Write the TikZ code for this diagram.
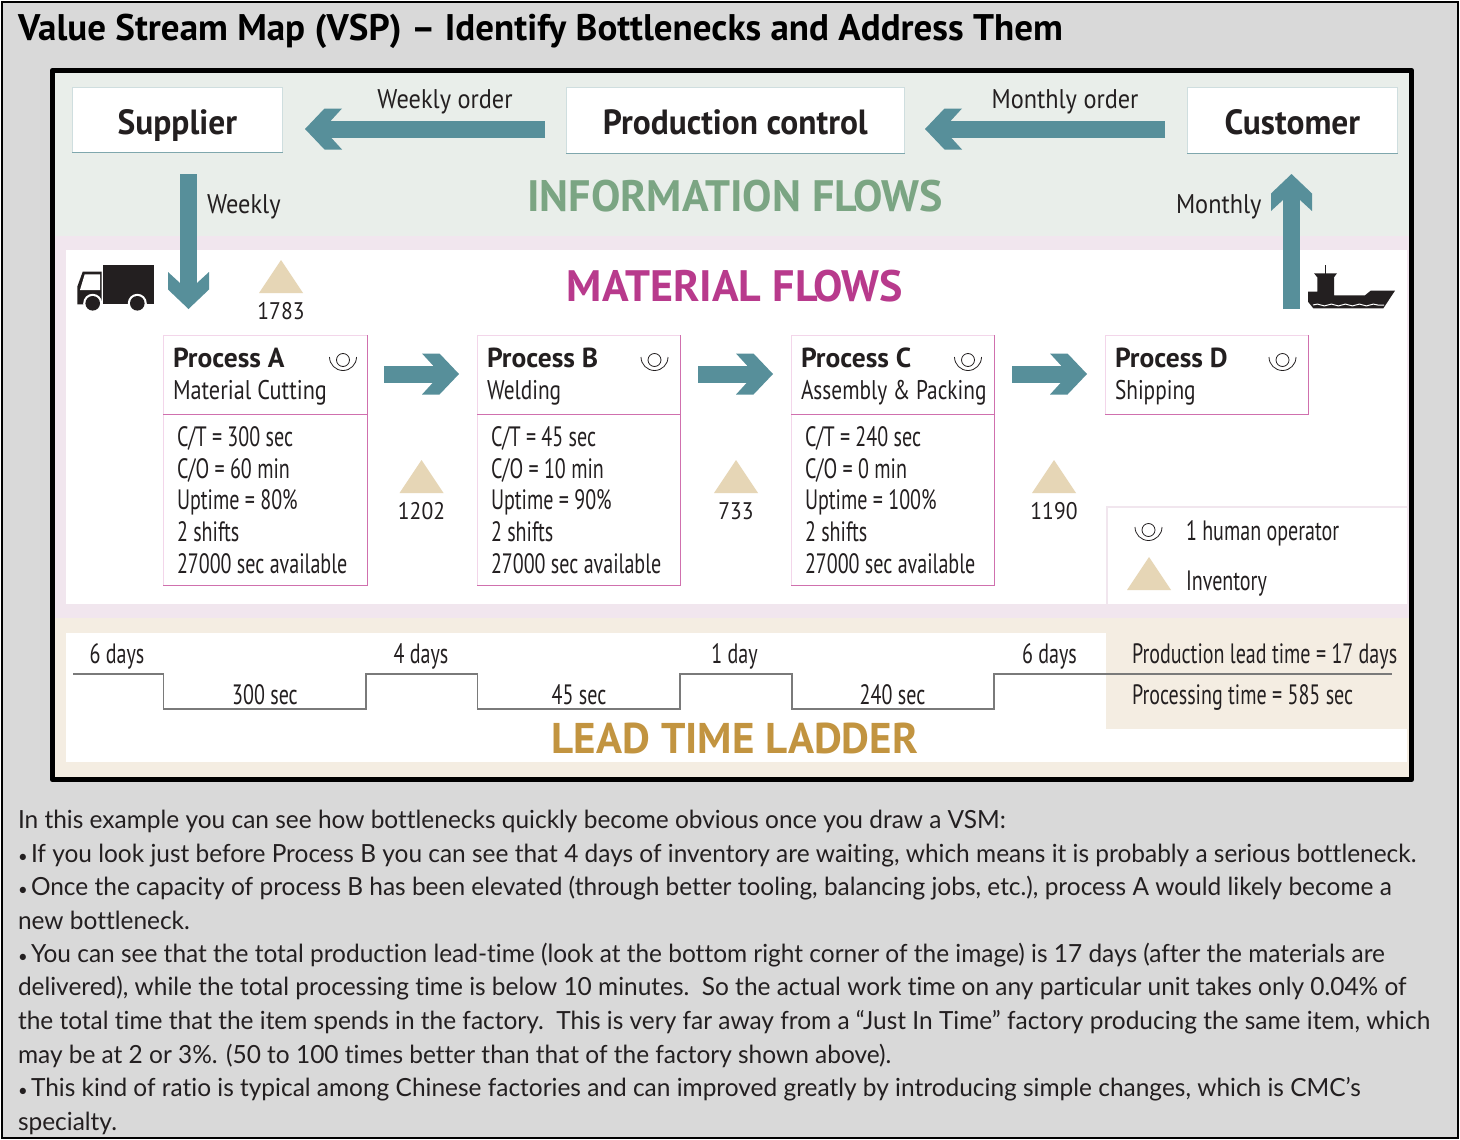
\documentclass[tikz,border=0pt]{standalone}
\usepackage{fontspec}
\usetikzlibrary{calc}
\usetikzlibrary{decorations.pathmorphing}
\setmainfont{PT Sans}
\newfontfamily\nara[FakeStretch=0.716]{PT Sans}
\newfontfamily\narb[FakeStretch=0.79]{PT Sans}
\newfontfamily\nard[FakeStretch=0.825]{PT Sans}
\newfontfamily\narc[FakeStretch=0.9]{PT Sans}
\newfontfamily\ttl[FakeStretch=0.955]{PT Sans}
\newfontfamily\bod[FakeStretch=0.978,Ligatures=NoCommon]{Lato}
\definecolor{bggray}{HTML}{D9D9D9}
\definecolor{infobg}{HTML}{E9EEEA}
\definecolor{matbg}{HTML}{F1E6EE}
\definecolor{leadbg}{HTML}{F4EDE2}
\definecolor{teal}{HTML}{578F9A}
\definecolor{invtri}{HTML}{E6D6B6}
\definecolor{infot}{HTML}{7BA583}
\definecolor{matt}{HTML}{B83A8C}
\definecolor{leadt}{HTML}{C29440}
\definecolor{ink}{HTML}{231F20}
\definecolor{pinkl}{HTML}{F3D6EA}
\definecolor{pinkd}{HTML}{D070AE}
\definecolor{ladder}{HTML}{7A7A7A}
\definecolor{boxline}{HTML}{CFDEDF}
\definecolor{boxdark}{HTML}{7FA7AD}
\tikzset{
  x=1pt,y=-1pt,
  txt/.style={inner sep=0pt,outer sep=0pt,anchor=base west,text=ink},
  ctr/.style={inner sep=0pt,outer sep=0pt,anchor=base,text=ink},
  topbox/.style={draw=boxline,line width=.8pt,fill=white,inner sep=0pt,text=ink,text height=28pt,text depth=0pt,font=\ttl\bfseries\fontsize{35}{35}\selectfont},
  num/.style={ctr,font=\narc\fontsize{24}{24}\selectfont},
  nt/.style={txt,font=\nara\fontsize{28}{28}\selectfont},
  nsub/.style={txt,font=\narb\fontsize{27}{27}\selectfont},
  nb/.style={txt,font=\bfseries\fontsize{27.5}{27.5}\selectfont},
  nc/.style={ctr,font=\nara\fontsize{28}{28}\selectfont},
  lab/.style={txt,font=\narc\fontsize{27}{27}\selectfont},
  labc/.style={ctr,font=\narc\fontsize{27}{27}\selectfont},
  body/.style={txt,font=\bod\fontsize{25}{25}\selectfont},
  zone/.style={ctr,font=\bfseries\fontsize{44}{44}\selectfont},
  tri/.style={fill=invtri,draw=none},
  shaft/.style={draw=teal,line width=17pt,line cap=butt},
}
% connector: straight shaft from #1 with a notched chevron head whose tip is #2
\newcommand{\flowar}[2]{%
  \draw[shaft] (#1) -- ($(#2)!24pt!(#1)$);
  \fill[teal] (#2) -- ($(#2)!19.5pt!(#1)!20.5pt!90:(#1)$) -- ($(#2)!37pt!(#1)!20.5pt!90:(#1)$) -- ($(#2)!26pt!(#1)!8.5pt!90:(#1)$) -- ($(#2)!26pt!(#1)!8.5pt!-90:(#1)$) -- ($(#2)!37pt!(#1)!20.5pt!-90:(#1)$) -- ($(#2)!19.5pt!(#1)!20.5pt!-90:(#1)$) -- cycle;
}
\newcommand{\optr}[1]{%
  \begin{scope}[shift={#1}]
  \draw[ink,line width=.8pt] (0,2) circle[radius=6.5];
  \draw[ink,line width=.8pt] (-13.5,-1) arc[start angle=180,end angle=0,radius=13.5];
  \end{scope}}
\newcommand{\invt}[3]{%
  \fill[tri] (#1-22,#2) -- (#1+22,#2) -- (#1,#2-33) -- cycle;
  \node[num] (#3) at (#1,#2+26.5) {\csname inv#3\endcsname};}
\newcommand{\procbox}[3]{% left,right,bottom
  \draw[pinkl,line width=1pt] (#1,#3) -- (#1,335) -- (#2,335);
  \draw[pinkd,line width=1pt] (#2,335) -- (#2,#3) -- (#1,#3);
  \draw[pinkd,line width=1pt] (#1,414) -- (#2,414);
}
\newcommand{\bl}{\makebox[13pt][l]{\fontsize{17}{17}\selectfont •}}
\begin{document}
\begin{tikzpicture}
\useasboundingbox (0,0) rectangle (1460,1140);
\draw[fill=bggray,draw=black,line width=2pt] (2,2) rectangle (1458,1138);
\node[txt,font=\bfseries\fontsize{37}{37}\selectfont,text=black] (title) at (18,41) {Value Stream Map (VSP) – Identify Bottlenecks and Address Them};
% zones
\fill[infobg] (55,73) rectangle (1409,236);
\fill[matbg] (55,236) rectangle (1409,618);
\fill[white] (66,250) rectangle (1407,604);
\fill[matbg] (1106,506) rectangle (1407,604);
\fill[white] (1108,508) rectangle (1407,604);
\fill[leadbg] (55,618) rectangle (1409,777);
\fill[white] (66,633) rectangle (1106,762);
\fill[white] (1106,729) rectangle (1407,762);
\draw[black,line width=5.5pt,line join=round] (52.5,70.5) rectangle (1411.5,779.5);
% top boxes
\node[topbox,text height=30pt,minimum width=210pt,minimum height=65pt,anchor=north west] (sup) at (72,87) {Supplier};
\node[topbox,minimum width=338pt,minimum height=66pt,anchor=north west] (pc) at (566,87) {Production control};
\node[topbox,minimum width=210pt,minimum height=66pt,anchor=north west] (cus) at (1187,87) {Customer};
\foreach \bx in {sup,pc,cus}{\draw[boxdark,line width=.8pt] (\bx.south west) -- (\bx.south east);}
% flow arrows
\coordinate (wa) at (545,129);\coordinate (wb) at (305,129);
\coordinate (ma) at (1165,129);\coordinate (mb) at (925,129);
\coordinate (da) at (188.5,174);\coordinate (db) at (188.5,309);
\coordinate (ua) at (1291.5,309);\coordinate (ub) at (1291.5,174);
\flowar{wa}{wb}
\flowar{ma}{mb}
\flowar{da}{db}
\flowar{ua}{ub}
\node[labc] (wo) at (445,108) {Weekly order};
\node[labc] (mo) at (1065,108) {Monthly order};
\node[lab] (wk) at (207,213) {Weekly};
\node[lab] (mn) at (1176,213) {Monthly};
\node[zone,text=infot] (info) at (735,211) {INFORMATION FLOWS};
\node[zone,text=matt] (mat) at (735,301) {MATERIAL FLOWS};
\node[zone,text=leadt,font=\bfseries\fontsize{43}{43}\selectfont] (lead) at (735,753) {LEAD TIME LADDER};
% truck
\fill[ink] (103.3,265.3) rectangle (154,304.3);
\fill[ink] (77.3,304.3) -- (77.3,286.7) -- (82.7,271.7) -- (101.7,271.7) -- (101.7,304.3) -- cycle;
\fill[white] (80,290) -- (84.7,274.3) -- (100,274.3) -- (100,290) -- cycle;
\foreach \wx in {92.7,137.3}{
 \fill[white] (\wx,303.3) circle[radius=9.5];
 \fill[ink] (\wx,303.3) circle[radius=7.3];}
% ship
\draw[ink,line width=.8pt] (1325.7,265) -- (1325.7,274);
\fill[ink] (1308,291.7) -- (1308,301.7) -- (1313.3,308.3) -- (1383.3,308.3) -- (1395,290.7) -- (1370.7,290.7) -- (1365,295.3) -- (1334,295.3) -- (1334,277.3) -- (1337,273.3) -- (1314,273.3) -- (1317.3,277.3) -- (1317.3,291.7) -- cycle;
\draw[white,line width=1pt,decorate,decoration={snake,amplitude=.9pt,segment length=14pt}] (1313,305) -- (1384,305);
% inventories
\def\invia{1783}\def\invib{1202}\def\invic{733}\def\invid{1190}
\invt{281}{293}{ia}
\invt{421.5}{493}{ib}
\invt{736}{493}{ic}
\invt{1054}{493}{id}
% processes
\procbox{163}{367}{585}
\procbox{477}{680.5}{585}
\procbox{791}{994.5}{585}
\procbox{1105}{1308.5}{414}
\node[nb] (pa) at (173,367) {Process A};
\node[nsub,font=\nard\fontsize{27}{27}\selectfont] (pa2) at (173,399) {Material Cutting};
\node[nb] (pb) at (487,367) {Process B};
\node[nsub] (pb2) at (487,399) {Welding};
\node[nb] (pc1) at (801,367) {Process C};
\node[nsub] (pc2) at (801,399) {Assembly \& Packing};
\node[nb] (pd) at (1115,367) {Process D};
\node[nsub] (pd2) at (1115,399) {Shipping};
\optr{(343,358)}\optr{(654.5,358)}\optr{(968,358)}\optr{(1282.5,358)}\optr{(1148.5,528)}
\foreach \nm/\xx/\ct/\co/\up in {a/177/300/60/80, b/491/45/10/90, c/805/240/0/100}{
 \node[nt] (ct\nm) at (\xx,446) {C/T = \ct{} sec};
 \node[nt] (co\nm) at (\xx,478) {C/O = \co{} min};
 \node[nt] (up\nm) at (\xx,509.5) {Uptime = \up\%};
 \node[nt] (sh\nm) at (\xx,541) {2 shifts};
 \node[nt] (av\nm) at (\xx,573) {27000 sec available};
}
\coordinate (ga) at (384,374);\coordinate (gb) at (459,374);
\coordinate (gc) at (698,374);\coordinate (gd) at (773,374);
\coordinate (ge) at (1012,374);\coordinate (gf) at (1087,374);
\flowar{ga}{gb}
\flowar{gc}{gd}
\flowar{ge}{gf}
% legend
\fill[tri] (1127,590) -- (1171,590) -- (1149,557) -- cycle;
\node[nt] (l1) at (1186,540) {1 human operator};
\node[nt] (l2) at (1186,590) {Inventory};
% ladder
\draw[ladder,line width=1.3pt] (73,674) -- (163.5,674) -- (163.5,709) -- (366,709) -- (366,674) -- (477.5,674) -- (477.5,709) -- (680,709) -- (680,674) -- (792,674) -- (792,709) -- (994,709) -- (994,674) -- (1392,674);
\node[nc] (d1) at (117,663) {6 days};
\node[nc] (d2) at (421,663) {4 days};
\node[nc] (d3) at (734.5,663) {1 day};
\node[nc] (d4) at (1049.5,663) {6 days};
\node[nc] (s1) at (265,704) {300 sec};
\node[nc] (s2) at (579,704) {45 sec};
\node[nc] (s3) at (892.5,704) {240 sec};
\node[nt] (plt) at (1132,663) {Production lead time = 17 days};
\node[nt] (ppt) at (1132,704) {Processing time = 585 sec};
% body
\node[body] (b1) at (18,828) {In this example you can see how bottlenecks quickly become obvious once you draw a VSM:};
\node[body] (b2) at (18,862) {\bl If you look just before Process B you can see that 4 days of inventory are waiting, which means it is probably a serious bottleneck.};
\node[body] (b3) at (18,895.5) {\bl Once the capacity of process B has been elevated (through better tooling, balancing jobs, etc.), process A would likely become a};
\node[body] (b4) at (18,929) {new bottleneck.};
\node[body] (b5) at (18,962) {\bl You can see that the total production lead-time (look at the bottom right corner of the image) is 17 days (after the materials are};
\node[body] (b6) at (18,995.5) {delivered), while the total processing time is below 10 minutes.\ \ So the actual work time on any particular unit takes only 0.04\% of};
\node[body] (b7) at (18,1029) {the total time that the item spends in the factory.\ \ This is very far away from a “Just In Time” factory producing the same item, which};
\node[body] (b8) at (18,1063) {may be at 2 or 3\%. (50 to 100 times better than that of the factory shown above).};
\node[body] (b9) at (18,1096) {\bl This kind of ratio is typical among Chinese factories and can improved greatly by introducing simple changes, which is CMC’s};
\node[body] (b10) at (18,1130) {specialty.};
\end{tikzpicture}
\end{document}
